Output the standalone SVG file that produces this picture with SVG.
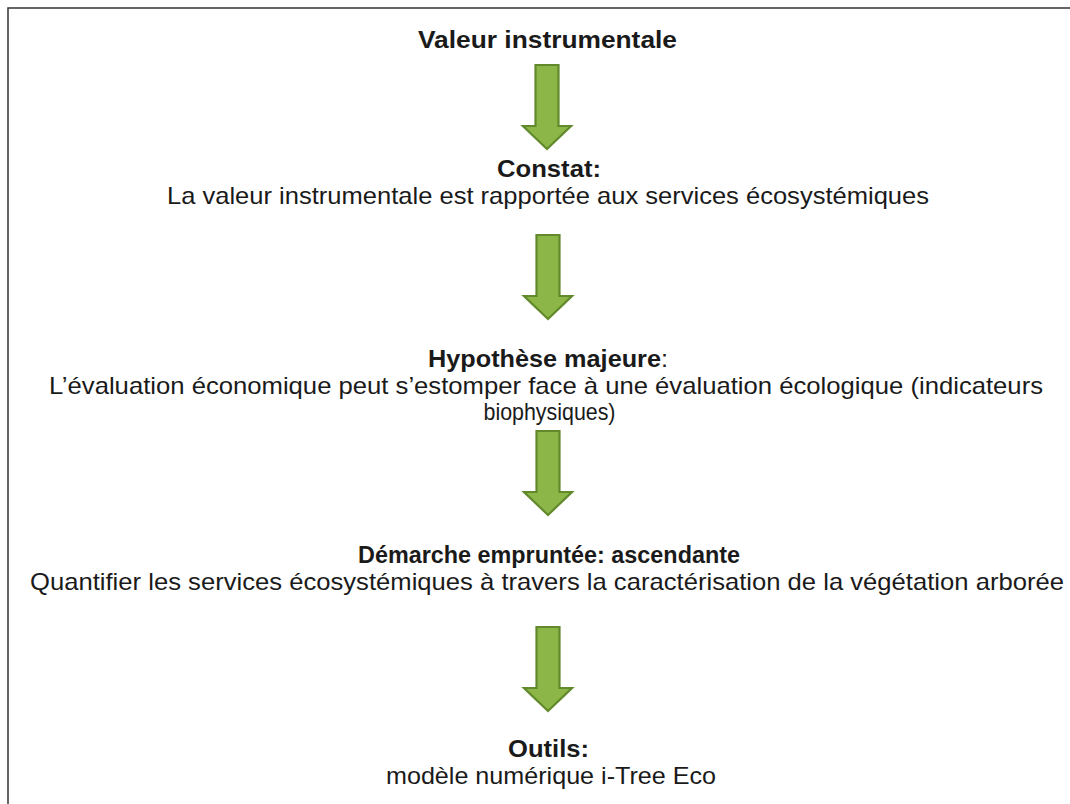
<svg xmlns="http://www.w3.org/2000/svg" xmlns:xlink="http://www.w3.org/1999/xlink" width="1070" height="804" viewBox="0 0 1070 804">
<style>
.t{font-family:"Liberation Sans",Arial,sans-serif;font-size:24px;fill:#1a1a1a;text-anchor:middle}
.b{font-weight:bold}
.arr{fill:#8cb748;stroke:#628a2c;stroke-width:2.2;stroke-linejoin:miter}
.frame{fill:none;stroke:#333;stroke-width:1.5}
</style>
<defs>
<path id="arrow" class="arr" d="M-11.5,0 H11.5 V61 H24 L0,84 L-24,61 H-11.5 Z"/>
</defs>
<rect width="1070" height="804" fill="#fff"/>
<path class="frame" d="M8,804 V8 H1070"/>
<g id="connectors">
<use xlink:href="#arrow" transform="translate(547,65)"/>
<use xlink:href="#arrow" transform="translate(548,235)"/>
<use xlink:href="#arrow" transform="translate(548,431)"/>
<use xlink:href="#arrow" transform="translate(548,627)"/>
</g>
<g id="n1"><text class="t b" x="547.5" y="48" textLength="259" lengthAdjust="spacingAndGlyphs">Valeur instrumentale</text></g>
<g id="n2">
<text class="t b" x="549" y="177" textLength="104" lengthAdjust="spacingAndGlyphs">Constat:</text>
<text class="t" x="548" y="204" textLength="762" lengthAdjust="spacingAndGlyphs">La valeur instrumentale est rapportée aux services écosystémiques</text>
</g>
<g id="n3">
<text class="t" x="548" y="367" textLength="240" lengthAdjust="spacingAndGlyphs"><tspan class="b">Hypothèse majeure</tspan>:</text>
<text class="t" x="546" y="394" textLength="994" lengthAdjust="spacingAndGlyphs">L’évaluation économique peut s’estomper face à une évaluation écologique (indicateurs</text>
<text class="t" x="549.5" y="420" textLength="132" lengthAdjust="spacingAndGlyphs">biophysiques)</text>
</g>
<g id="n4">
<text class="t b" x="549" y="563" textLength="382" lengthAdjust="spacingAndGlyphs">Démarche empruntée: ascendante</text>
<text class="t" x="547" y="590" textLength="1034" lengthAdjust="spacingAndGlyphs">Quantifier les services écosystémiques à travers la caractérisation de la végétation arborée</text>
</g>
<g id="n5">
<text class="t b" x="548.5" y="757" textLength="81" lengthAdjust="spacingAndGlyphs">Outils:</text>
<text class="t" x="551" y="784" textLength="330" lengthAdjust="spacingAndGlyphs">modèle numérique i-Tree Eco</text>
</g>
</svg>
